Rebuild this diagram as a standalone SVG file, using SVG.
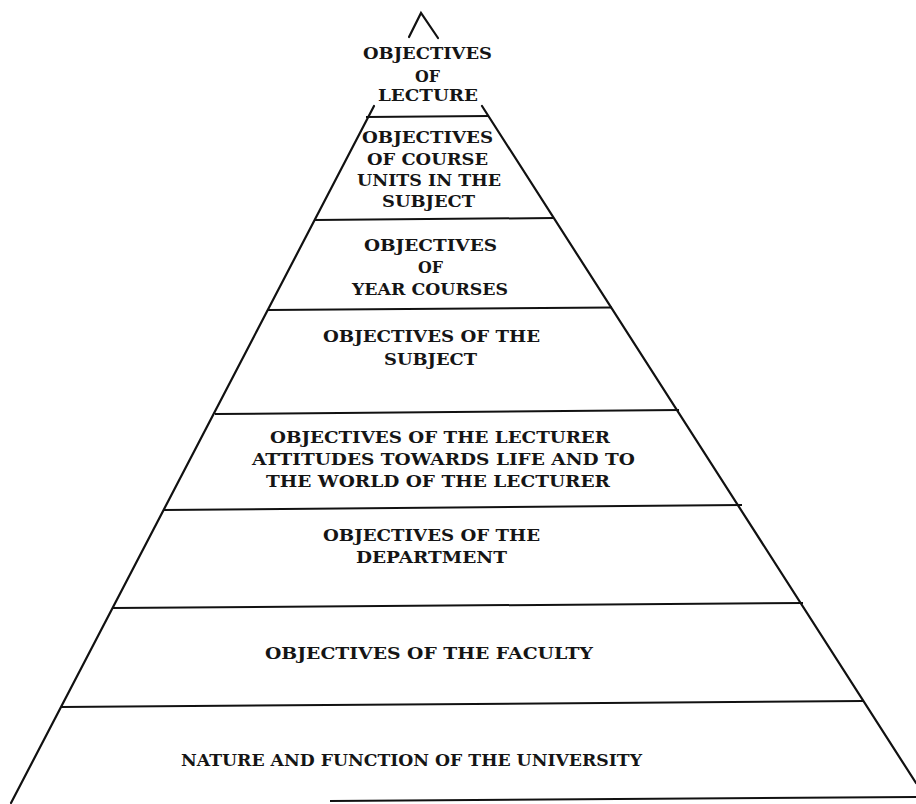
<svg xmlns="http://www.w3.org/2000/svg" width="916" height="804" viewBox="0 0 916 804">
  <style>
    .edge { stroke: #111; stroke-width: 2.2; fill: none; stroke-linecap: round; }
    .tier { stroke: #111; stroke-width: 2; fill: none; }
    .lbl { font-family: "DejaVu Serif", "Liberation Serif", serif; font-weight: bold; font-size: 17px; fill: #151515; }
  </style>
  <rect width="916" height="804" fill="#ffffff"/>

  <!-- pyramid outline and tier dividers -->
  <g id="connectors">
    <polyline class="edge" points="409,37 421,13 438,38"/>
    <line class="edge" x1="374" y1="106" x2="11" y2="803"/>
    <line class="edge" x1="482" y1="106" x2="916" y2="783"/>
    <line class="tier" x1="366" y1="117" x2="489" y2="116"/>
    <line class="tier" x1="315" y1="220" x2="554" y2="218"/>
    <line class="tier" x1="268" y1="310" x2="612" y2="307.5"/>
    <line class="tier" x1="215" y1="414" x2="679" y2="410"/>
    <line class="tier" x1="163" y1="510" x2="742" y2="505"/>
    <line class="tier" x1="113" y1="608" x2="803" y2="603"/>
    <line class="tier" x1="61" y1="707" x2="863" y2="701"/>
    <line class="tier" x1="330" y1="801" x2="916" y2="797"/>
  </g>

  <g id="lecture">
    <text class="lbl" x="363" y="59" textLength="129" lengthAdjust="spacingAndGlyphs">OBJECTIVES</text>
    <text class="lbl" x="415" y="82" textLength="25" lengthAdjust="spacingAndGlyphs">OF</text>
    <text class="lbl" x="378" y="101" textLength="100" lengthAdjust="spacingAndGlyphs">LECTURE</text>
  </g>

  <g id="course-units">
    <text class="lbl" x="362" y="143" textLength="131" lengthAdjust="spacingAndGlyphs">OBJECTIVES</text>
    <text class="lbl" x="367" y="165" textLength="121" lengthAdjust="spacingAndGlyphs">OF COURSE</text>
    <text class="lbl" x="357" y="186" textLength="144" lengthAdjust="spacingAndGlyphs">UNITS IN THE</text>
    <text class="lbl" x="382" y="207" textLength="93" lengthAdjust="spacingAndGlyphs">SUBJECT</text>
  </g>

  <g id="year-courses">
    <text class="lbl" x="364" y="251" textLength="133" lengthAdjust="spacingAndGlyphs">OBJECTIVES</text>
    <text class="lbl" x="418" y="273" textLength="25" lengthAdjust="spacingAndGlyphs">OF</text>
    <text class="lbl" x="352" y="295" textLength="156" lengthAdjust="spacingAndGlyphs">YEAR COURSES</text>
  </g>

  <g id="subject">
    <text class="lbl" x="323" y="342" textLength="217" lengthAdjust="spacingAndGlyphs">OBJECTIVES OF THE</text>
    <text class="lbl" x="384" y="365" textLength="93" lengthAdjust="spacingAndGlyphs">SUBJECT</text>
  </g>

  <g id="lecturer">
    <text class="lbl" x="270" y="443" textLength="340" lengthAdjust="spacingAndGlyphs">OBJECTIVES OF THE LECTURER</text>
    <text class="lbl" x="252" y="465" textLength="383" lengthAdjust="spacingAndGlyphs">ATTITUDES TOWARDS LIFE AND TO</text>
    <text class="lbl" x="266" y="487" textLength="344" lengthAdjust="spacingAndGlyphs">THE WORLD OF THE LECTURER</text>
  </g>

  <g id="department">
    <text class="lbl" x="323" y="541" textLength="217" lengthAdjust="spacingAndGlyphs">OBJECTIVES OF THE</text>
    <text class="lbl" x="356" y="563" textLength="151" lengthAdjust="spacingAndGlyphs">DEPARTMENT</text>
  </g>

  <g id="faculty">
    <text class="lbl" x="265" y="659" textLength="328" lengthAdjust="spacingAndGlyphs">OBJECTIVES OF THE FACULTY</text>
  </g>

  <g id="university">
    <text class="lbl" x="181" y="766" textLength="461" lengthAdjust="spacingAndGlyphs">NATURE AND FUNCTION OF THE UNIVERSITY</text>
  </g>
</svg>
